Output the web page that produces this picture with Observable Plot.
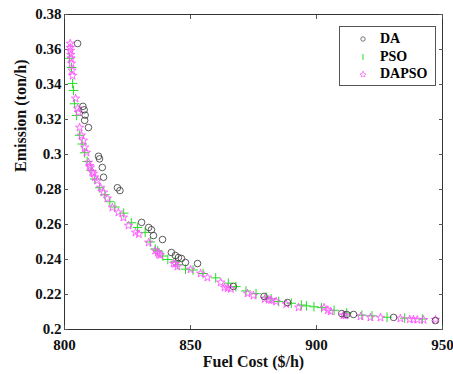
<!DOCTYPE html>
<html>
<head>
<meta charset="utf-8">
<script src="https://cdn.jsdelivr.net/npm/d3@7"></script>
<script src="https://cdn.jsdelivr.net/npm/@observablehq/plot@0.6"></script>
<style>
  body { margin: 0; background: #fff; }
  #wrap { position: relative; width: 453px; height: 374px; }
  #legend { position: absolute; left: 339px; top: 26px; width: 95px; height: 58px;
    border: 1px solid #555; background: #fff; font: bold 14px "Liberation Serif", serif; }
  #legend .row { position: absolute; left: 0; height: 18px; display: flex; align-items: center; }
  #legend svg { width: 40px; height: 18px; }
</style>
</head>
<body>
<div id="wrap"></div>
<script>
// DA (black circles): fuel cost ($/h), emission (ton/h)
const daCost = [805.2, 807.3, 807.8, 808.2, 808.0, 809.5, 813.5, 813.9, 815.0, 815.5, 821.0, 822.0,
  830.6, 833.4, 834.5, 835.3, 838.9, 842.4, 844.0, 845.2, 846.4, 848.0, 852.8,
  867.0, 879.2, 888.5, 910.0, 912.0, 914.7, 930.6, 947.2];
const daEm = [0.3634, 0.3275, 0.3255, 0.3225, 0.3195, 0.3154, 0.2990, 0.2975, 0.2926, 0.2870, 0.2810, 0.2794,
  0.2612, 0.2583, 0.2570, 0.2537, 0.2514, 0.2440, 0.2423, 0.2411, 0.2406, 0.2383, 0.2377,
  0.2246, 0.2189, 0.2154, 0.2091, 0.2086, 0.2086, 0.2069, 0.2051];

// PSO (green plus)
const psoCost = [802.0, 802.8, 803.2, 803.6, 804.0, 804.8, 806.0, 807.0, 808.0, 809.0, 810.5, 812.0,
  814.0, 816.0, 818.0, 820.0, 823.5, 826.5, 829.0, 832.0, 834.0, 836.0, 837.0, 839.0, 841.0,
  844.0, 845.0, 848.0, 851.0, 855.0, 860.0, 865.0, 868.0, 872.0, 876.0, 880.0, 882.0, 885.0,
  890.0, 894.0, 896.0, 899.0, 902.0, 907.0, 912.0, 918.0, 922.0, 928.0, 935.0, 942.0];
const psoEm = [0.3550, 0.3497, 0.3406, 0.3366, 0.3290, 0.3223, 0.3110, 0.3060, 0.3010, 0.2960, 0.2910, 0.2860,
  0.2810, 0.2770, 0.2730, 0.2700, 0.2665, 0.2610, 0.2583, 0.2555, 0.2500, 0.2460, 0.2450, 0.2420, 0.2400,
  0.2390, 0.2370, 0.2345, 0.2340, 0.2320, 0.2295, 0.2265, 0.2245, 0.2220, 0.2205, 0.2185, 0.2175, 0.2160,
  0.2150, 0.2140, 0.2135, 0.2130, 0.2125, 0.2110, 0.2095, 0.2082, 0.2078, 0.2070, 0.2065, 0.2060];

// DAPSO (magenta stars)
const dapsoCost = [802.3, 802.3, 802.4, 802.5, 802.6, 802.8, 803.0, 803.2, 804.4, 805.2, 805.5, 806.0, 806.7,
  807.5, 808.0, 808.7, 809.5, 810.0, 810.3, 811.0, 811.5, 812.0, 813.0, 814.3, 815.5, 817.0, 819.0,
  821.4, 823.4, 825.4, 828.2, 829.5, 833.4, 836.0, 837.0, 837.4, 838.0, 843.3, 844.0, 844.8, 850.0,
  854.0, 856.7, 862.0, 863.5, 864.7, 866.0, 872.6, 875.0, 879.5, 881.0, 882.0, 884.0, 888.0, 892.9,
  903.0, 904.5, 905.6, 910.7, 911.5, 917.5, 921.4, 925.4, 933.3, 937.0, 938.5, 940.0, 942.5, 947.2];
const dapsoEm = [0.3634, 0.3610, 0.3594, 0.3570, 0.3550, 0.3520, 0.3480, 0.3450, 0.3320, 0.3263, 0.3240, 0.3154, 0.3109,
  0.3080, 0.3040, 0.3011, 0.2954, 0.2935, 0.2926, 0.2900, 0.2891, 0.2870, 0.2851, 0.2811, 0.2783, 0.2749, 0.2697,
  0.2669, 0.2640, 0.2594, 0.2554, 0.2545, 0.2497, 0.2451, 0.2440, 0.2429, 0.2425, 0.2377, 0.2375, 0.2360, 0.2343,
  0.2320, 0.2297, 0.2269, 0.2240, 0.2237, 0.2232, 0.2206, 0.2194, 0.2175, 0.2170, 0.2168, 0.2160, 0.2145, 0.2126,
  0.2125, 0.2110, 0.2103, 0.2082, 0.2080, 0.2075, 0.2069, 0.2068, 0.2063, 0.2058, 0.2057, 0.2056, 0.2055, 0.2056];

const xTicks = [800, 850, 900, 950];
const yTicks = [0.2, 0.22, 0.24, 0.26, 0.28, 0.3, 0.32, 0.34, 0.36, 0.38];
const xTitle = "Fuel Cost ($/h)";
const yTitle = "Emission (ton/h)";
const seriesNames = ["DA", "PSO", "DAPSO"];

const da = daCost.map((c, i) => ({c, e: daEm[i]}));
const pso = psoCost.map((c, i) => ({c, e: psoEm[i]}));
const dapso = dapsoCost.map((c, i) => ({c, e: dapsoEm[i]}));

const fmtY = d => String(+d.toFixed(2));

const chart = Plot.plot({
  width: 453,
  height: 374,
  marginLeft: 64,
  marginRight: 11,
  marginTop: 14,
  marginBottom: 45,
  style: {fontFamily: "'Liberation Serif', serif", fontSize: "15px", fontWeight: "bold", color: "#111", background: "#fff"},
  x: {domain: [800, 950]},
  y: {domain: [0.2, 0.38]},
  marks: [
    Plot.frame({stroke: "#333"}),
    Plot.axisX(xTicks, {anchor: "bottom", tickSize: -4, tickPadding: 14, label: null, stroke: "#555"}),
    Plot.axisX(xTicks, {anchor: "top", tickSize: -4, tickFormat: () => "", label: null, stroke: "#555"}),
    Plot.axisY(yTicks, {anchor: "left", tickSize: -4, tickPadding: 7, tickFormat: fmtY, label: null, stroke: "#555"}),
    Plot.axisY(yTicks, {anchor: "right", tickSize: -4, tickFormat: () => "", label: null, stroke: "#555"}),
    Plot.dot(pso, {x: "c", y: "e", symbol: "plus", r: 3.2, stroke: "#22e022", strokeWidth: 1}),
    Plot.dot(dapso, {x: "c", y: "e", symbol: "star", r: 2.6, stroke: "#ff55ff", strokeWidth: 0.9, fill: "none"}),
    Plot.dot(da, {x: "c", y: "e", symbol: "circle", r: 3.3, stroke: "#333", strokeWidth: 0.8, fill: "none"}),
    Plot.text([xTitle], {frameAnchor: "bottom", dy: 37, fontSize: 16, fontWeight: "bold"}),
    Plot.text([yTitle], {frameAnchor: "left", dx: -44, rotate: -90, fontSize: 16, fontWeight: "bold"})
  ]
});
const wrap = document.getElementById("wrap");
wrap.appendChild(chart);

const icons = [
  '<circle cx="23" cy="9" r="2.2" fill="none" stroke="#555" stroke-width="0.8"/>',
  '<line x1="23" y1="6" x2="23" y2="12" stroke="#22e022" stroke-width="1"/>',
  '<path d="M23,6 L24,8.5 L26,9 L24.5,10.5 L25,12 L23,11 L21,12 L21.5,10.5 L20,9 L22,8.5 Z" fill="none" stroke="#ff55ff" stroke-width="0.7"/>'
];
const leg = document.createElement("div");
leg.id = "legend";
seriesNames.forEach((n, i) => {
  const row = document.createElement("div");
  row.className = "row";
  row.style.top = (3 + i * 17.5) + "px";
  row.innerHTML = `<svg viewBox="0 0 40 18">${icons[i]}</svg><span>${n}</span>`;
  leg.appendChild(row);
});
wrap.appendChild(leg);
</script>
</body>
</html>
